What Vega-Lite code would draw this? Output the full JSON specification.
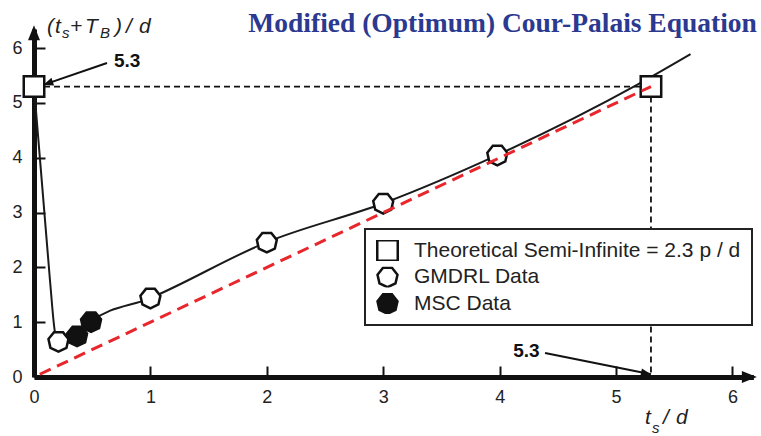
{
  "$schema": "https://vega.github.io/schema/vega-lite/v6.json",
  "width": 719.4,
  "height": 348,
  "autosize": {"type": "none"},
  "padding": {"left": 34, "top": 29, "right": 7.6, "bottom": 59},
  "background": "white",
  "config": {
    "view": {"stroke": null},
    "axis": {
      "grid": false,
      "title": null,
      "domainWidth": 5,
      "domainColor": "#111111",
      "tickSize": -11,
      "tickWidth": 2,
      "tickColor": "#111111",
      "labelFont": "Liberation Sans",
      "labelFontSize": 18,
      "labelColor": "#222222",
      "labelFlush": false,
      "labelOverlap": false
    },
    "axisX": {"labelPadding": 22},
    "axisY": {"labelPadding": 23},
    "legend": {
      "orient": "none",
      "legendX": 331,
      "legendY": 200,
      "title": null,
      "padding": 11,
      "rowPadding": 4.5,
      "clipHeight": 21,
      "labelOffset": 15,
      "labelFont": "Liberation Sans",
      "labelFontSize": 21,
      "labelColor": "#222222",
      "labelLimit": 500,
      "symbolSize": 420,
      "symbolStrokeWidth": 2.5,
      "strokeColor": "#222222",
      "strokeWidth": 2,
      "fillColor": "white"
    }
  },
  "datasets": {
    "measured": [
      {"x": 0, "y": 5.3, "series": "Theoretical Semi-Infinite = 2.3 p / d"},
      {"x": 5.3, "y": 5.3, "series": "Theoretical Semi-Infinite = 2.3 p / d"},
      {"x": 0.21, "y": 0.65, "series": "GMDRL Data"},
      {"x": 1.0, "y": 1.44, "series": "GMDRL Data"},
      {"x": 2.0, "y": 2.46, "series": "GMDRL Data"},
      {"x": 3.0, "y": 3.17, "series": "GMDRL Data"},
      {"x": 3.98, "y": 4.05, "series": "GMDRL Data"},
      {"x": 0.37, "y": 0.75, "series": "MSC Data"},
      {"x": 0.49, "y": 1.01, "series": "MSC Data"}
    ],
    "fit": [
      {"x": 0, "y": 5.3},
      {"x": 0.137, "y": 1.77},
      {"x": 0.18, "y": 0.82},
      {"x": 0.21, "y": 0.65},
      {"x": 0.37, "y": 0.75},
      {"x": 0.49, "y": 1.01},
      {"x": 1.0, "y": 1.44},
      {"x": 2.0, "y": 2.46},
      {"x": 3.0, "y": 3.17},
      {"x": 3.98, "y": 4.05},
      {"x": 5.18, "y": 5.33},
      {"x": 5.64, "y": 5.89}
    ],
    "equality": [
      {"x": 0.05, "y": 0.05},
      {"x": 5.3, "y": 5.3}
    ],
    "guides": [
      {"x": 0, "y": 5.3, "x2": 5.3, "y2": 5.3},
      {"x": 5.3, "y": 5.3, "x2": 5.3, "y2": 0}
    ],
    "callouts": [
      {"x": 0.627, "y": 5.73, "x2": 0.08, "y2": 5.33},
      {"x": 4.39, "y": 0.438, "x2": 5.3, "y2": 0.05}
    ],
    "calloutText": [
      {"x": 0.8, "y": 5.77, "t": "5.3"},
      {"x": 4.23, "y": 0.47, "t": "5.3"}
    ],
    "axisTitles": [
      {"x": 0.112, "y": 6.378, "t": "(", "kind": "main"},
      {"x": 0.18, "y": 6.378, "t": "t", "kind": "main"},
      {"x": 0.241, "y": 6.28, "t": "s", "kind": "sub"},
      {"x": 0.309, "y": 6.378, "t": "+", "kind": "main"},
      {"x": 0.438, "y": 6.378, "t": "T", "kind": "main"},
      {"x": 0.567, "y": 6.28, "t": "B", "kind": "sub"},
      {"x": 0.696, "y": 6.378, "t": ")", "kind": "main"},
      {"x": 0.79, "y": 6.378, "t": "/", "kind": "main"},
      {"x": 0.902, "y": 6.378, "t": "d", "kind": "main"},
      {"x": 5.249, "y": -0.75, "t": "t", "kind": "main"},
      {"x": 5.309, "y": -0.93, "t": "s", "kind": "sub"},
      {"x": 5.404, "y": -0.75, "t": "/", "kind": "main"},
      {"x": 5.515, "y": -0.75, "t": "d", "kind": "main"}
    ],
    "heading": [
      {"x": 6.21, "y": 6.296, "t": "Modified (Optimum) Cour-Palais Equation"}
    ],
    "xArrow": [{"x": 6.21, "y": 0}],
    "yArrow": [{"x": 0, "y": 6.42}]
  },
  "encoding": {
    "x": {
      "field": "x",
      "type": "quantitative",
      "scale": {"domain": [0, 6.18], "nice": false, "zero": false},
      "axis": {"values": [0, 1, 2, 3, 4, 5, 6]}
    },
    "y": {
      "field": "y",
      "type": "quantitative",
      "scale": {"domain": [0, 6.35], "nice": false, "zero": false},
      "axis": {"values": [0, 1, 2, 3, 4, 5, 6]}
    }
  },
  "layer": [
    {
      "data": {"name": "guides"},
      "mark": {"type": "rule", "color": "#111111", "strokeWidth": 1.8, "strokeDash": [6, 4]},
      "encoding": {"x2": {"field": "x2"}, "y2": {"field": "y2"}}
    },
    {
      "data": {"name": "fit"},
      "mark": {"type": "line", "color": "#1a1a1a", "strokeWidth": 2, "interpolate": "monotone"},
      "encoding": {}
    },
    {
      "data": {"name": "measured"},
      "mark": {"type": "point", "filled": false, "stroke": "#111111", "strokeWidth": 2.5, "size": 420, "opacity": 1},
      "encoding": {
        "shape": {
          "field": "series",
          "type": "nominal",
          "scale": {
            "domain": ["Theoretical Semi-Infinite = 2.3 p / d", "GMDRL Data", "MSC Data"],
            "range": [
              "square",
              "M0.434,-0.901L0.975,-0.223L0.782,0.623L0,1L-0.782,0.623L-0.975,-0.223L-0.434,-0.901Z",
              "M0.434,-0.901L0.975,-0.223L0.782,0.623L0,1L-0.782,0.623L-0.975,-0.223L-0.434,-0.901Z"
            ]
          }
        },
        "fill": {
          "field": "series",
          "type": "nominal",
          "scale": {
            "domain": ["Theoretical Semi-Infinite = 2.3 p / d", "GMDRL Data", "MSC Data"],
            "range": ["white", "white", "#111111"]
          }
        }
      }
    },
    {
      "data": {"name": "equality"},
      "mark": {"type": "line", "color": "#e8262c", "strokeWidth": 3, "strokeDash": [12, 7]},
      "encoding": {}
    },
    {
      "data": {"name": "callouts"},
      "mark": {"type": "rule", "color": "#111111", "strokeWidth": 2},
      "encoding": {"x2": {"field": "x2"}, "y2": {"field": "y2"}}
    },
    {
      "data": {"name": "callouts"},
      "transform": [{"filter": "datum.x < 1"}],
      "mark": {"type": "point", "shape": "M0,0L0.4,1L-0.4,1Z", "filled": true, "color": "#111111", "size": 400, "angle": 251, "opacity": 1},
      "encoding": {"x": {"field": "x2", "type": "quantitative"}, "y": {"field": "y2", "type": "quantitative"}}
    },
    {
      "data": {"name": "callouts"},
      "transform": [{"filter": "datum.x > 1"}],
      "mark": {"type": "point", "shape": "M0,0L0.4,1L-0.4,1Z", "filled": true, "color": "#111111", "size": 400, "angle": 101, "opacity": 1},
      "encoding": {"x": {"field": "x2", "type": "quantitative"}, "y": {"field": "y2", "type": "quantitative"}}
    },
    {
      "data": {"name": "xArrow"},
      "mark": {"type": "point", "shape": "M0,0L0.8,2L-0.8,2Z", "filled": true, "color": "#111111", "size": 225, "angle": 90, "opacity": 1},
      "encoding": {}
    },
    {
      "data": {"name": "yArrow"},
      "mark": {"type": "point", "shape": "M0,0L0.8,2L-0.8,2Z", "filled": true, "color": "#111111", "size": 225, "angle": 0, "opacity": 1},
      "encoding": {}
    },
    {
      "data": {"name": "calloutText"},
      "mark": {"type": "text", "font": "Liberation Sans", "fontWeight": "bold", "fontSize": 19, "color": "#111111", "align": "center", "baseline": "middle"},
      "encoding": {"text": {"field": "t"}}
    },
    {
      "data": {"name": "axisTitles"},
      "transform": [{"filter": "datum.kind === 'main'"}],
      "mark": {"type": "text", "font": "Liberation Sans", "fontStyle": "italic", "fontSize": 21, "color": "#222222", "align": "left", "baseline": "middle"},
      "encoding": {"text": {"field": "t"}}
    },
    {
      "data": {"name": "axisTitles"},
      "transform": [{"filter": "datum.kind === 'sub'"}],
      "mark": {"type": "text", "font": "Liberation Sans", "fontStyle": "italic", "fontSize": 15, "color": "#222222", "align": "left", "baseline": "middle"},
      "encoding": {"text": {"field": "t"}}
    },
    {
      "data": {"name": "heading"},
      "mark": {"type": "text", "font": "Liberation Serif", "fontWeight": "bold", "fontSize": 27.5, "color": "#2b3990", "align": "right", "baseline": "alphabetic"},
      "encoding": {"text": {"field": "t"}}
    }
  ]
}
